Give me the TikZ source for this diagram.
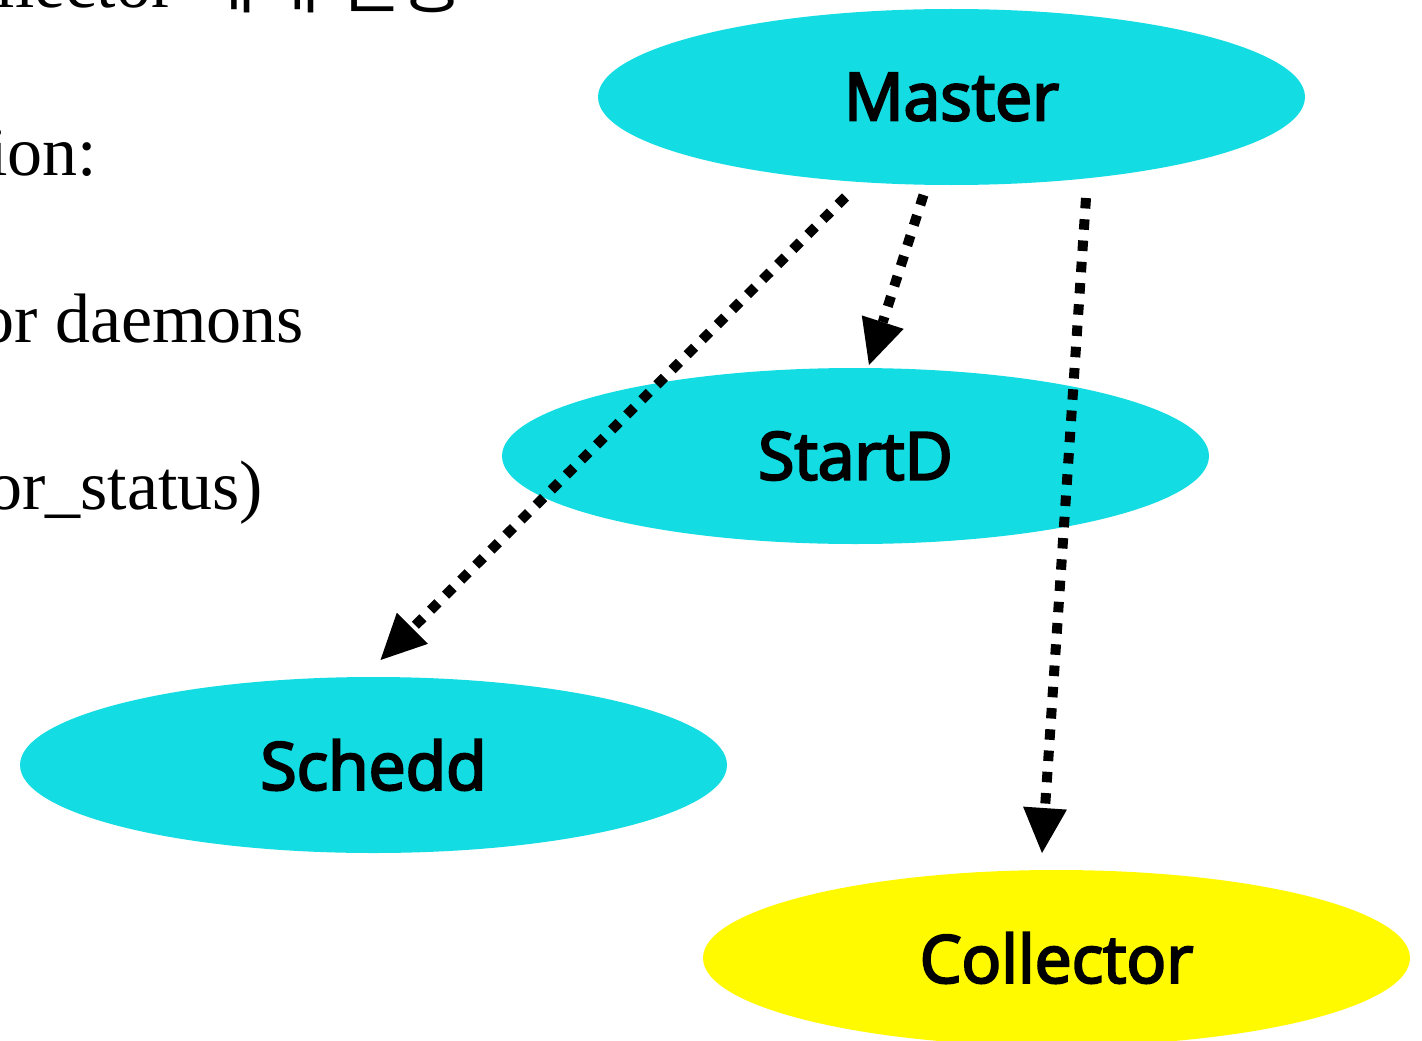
\documentclass[tikz,border=0pt]{standalone}
\usepackage{fontspec}
\setmainfont{Liberation Serif}
\newfontfamily\labfont{Open Sans}[FakeBold=3.5]
\newfontfamily\krfont{Noto Sans CJK KR}
\usetikzlibrary{shapes.geometric,arrows.meta,calc}
\definecolor{nodecyan}{RGB}{19,221,227}
\definecolor{nodeyellow}{RGB}{255,250,0}
\tikzset{
  daemon/.style={ellipse, fill=nodecyan, draw=none, minimum width=707pt, minimum height=176pt, inner sep=0pt,
    font=\labfont\fontsize{66}{80}\selectfont},
  bodytext/.style={anchor=base west, inner sep=0pt, font=\fontsize{70}{80}\selectfont},
  dotarrow/.style={line width=10pt, dash pattern=on 10.5pt off 10.8pt, line cap=butt,
    -{Triangle[length=45pt,width=44pt,line width=0pt]}}
}
\begin{document}
\begin{tikzpicture}[x=1pt,y=-1pt]
\useasboundingbox (0,0) rectangle (1422,1041);
\clip (0,0) rectangle (1422,1041);
\fill[white] (0,0) rectangle (1422,1041);
% left text (cut off)
\node[bodytext] (t1) at (-86,8) {Collector {\krfont\fontsize{70}{80}\selectfont 에게 전송}};
\node[bodytext] (t2) at (-12,175) {ion:};
\node[bodytext] (t3) at (-21,342) {or daemons};
\node[bodytext] (t4) at (-13,509) {or\_status)};
% nodes
\node[daemon] (master) at (951.5,97) {Master};
\node[daemon] (startd) at (855.5,456) {StartD};
\node[daemon] (schedd) at (373.5,765) {Schedd};
\node[daemon, fill=nodeyellow] (collector) at (1056.5,958) {Collector};
% connectors
\draw[dotarrow] ($(master.center)+(-106,100)$) -- ($(schedd.center)+(7,-105)$);
\draw[dotarrow] ($(master.center)+(-28,98)$) -- ($(startd.center)+(13.5,-91)$);
\draw[dotarrow] ($(master.center)+(134.5,101)$) -- ($(collector.center)+(-14.5,-105)$);
\end{tikzpicture}
\end{document}
